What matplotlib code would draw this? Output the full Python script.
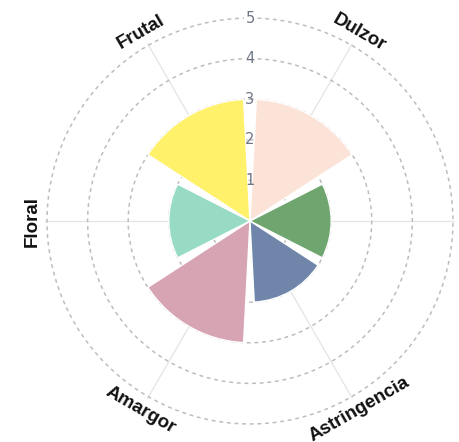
import numpy as np
import matplotlib.pyplot as plt

# === Data ===
categories = ["Dulzor", "", "Astringencia", "Amargor", "Floral", "Frutal"]
values = [3, 2, 2, 3, 2, 3]
colors = ["#fbe3d7", "#6fa66f", "#6f86aa", "#d7a4b4", "#97dbc5", "#fff16a"]
r_ticks = [1, 2, 3, 4, 5]

n = len(categories)
angles = np.arange(n) * 2 * np.pi / n + np.pi / n  # 30, 90, 150 ...
width = 2 * np.pi / n * 0.9

fig = plt.figure(figsize=(4.6, 4.42), dpi=100)
ax = fig.add_axes([0.0978, 0.0362, 0.8913, 0.9276], projection="polar")
ax.set_theta_zero_location("N")
ax.set_theta_direction(-1)

ax.bar(angles, values, width=width, color=colors, edgecolor="white",
       linewidth=1.0, zorder=2)

ax.set_ylim(0, 5.05)
ax.set_yticks(r_ticks)
ax.set_yticklabels([])
ax.yaxis.grid(True, color="#bdbdbd", linestyle=(0, (2.5, 2.5)), linewidth=1.1)
ax.set_xticks(angles)
ax.set_xticklabels([])
ax.xaxis.grid(True, color="#e4e4e4", linestyle="-", linewidth=0.9)
ax.spines["polar"].set_visible(False)
ax.set_axisbelow(True)

# radial tick labels along the top
for r in r_ticks:
    ax.text(0, r, str(r), ha="center", va="center", fontsize=10.5,
            color="#6e7585", zorder=5,
            bbox=dict(facecolor="white", edgecolor="none", pad=0.8) if r > 3 else None)

# category labels, rotated tangentially
for ang, lab in zip(angles, categories):
    deg = np.degrees(ang)
    rot = -deg if (deg < 90 or deg > 270) else 180 - deg
    if abs(deg - 270) < 1:
        rot = 90
    ax.text(ang, 5.37, lab, ha="center", va="center", rotation=rot,
            rotation_mode="anchor", fontsize=13.5, fontweight="bold",
            family="Liberation Sans", color="#111111")

fig.savefig("out.png", dpi=100)
